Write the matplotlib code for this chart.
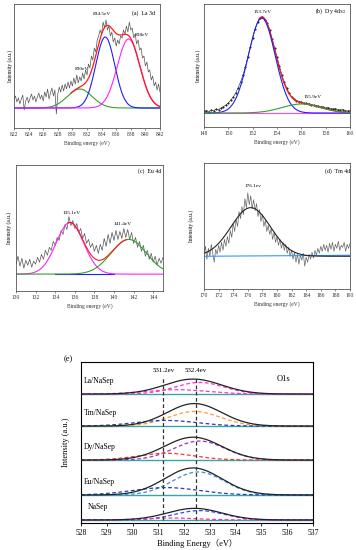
import numpy as np
import matplotlib
matplotlib.use('Agg')
import matplotlib.pyplot as plt
from matplotlib.ticker import MultipleLocator

plt.rcParams['font.family'] = ['Liberation Serif', 'Noto Sans CJK SC']
plt.rcParams['mathtext.fontset'] = 'stix'

# ---- (a) La 3d ----
la_start, la_step = 822.0, 0.2
la_y = [8, 12, 6, 10, 4, 9, 13, -2, 7, 11, 5, 10, 14, 8, 12, 6, 11, 15, 9, 13,
        7, 16, 11, 19, 9, 15, 20, 12, 18, -6, 14, 21, 16, 23, 17, 24, 19, 26, 20, 27,
        22, 30, 24, 33, 25, 31, 27, 35, 29, 38, 33, 44, 40, 52, 48, 60, 56, 68, 72, 78,
        74, 86, 80, 88, 78, 82, 72, 76, 66, 70, 62, 68, 64, 72, 70, 78, 74, 82, 76, 86,
        78, 80, 70, 74, 64, 68, 58, 60, 50, 52, 42, 46, 36, 38, 28, 32, 22, 26, 18, 24, 16]
la_pos = [831.0, 834.5, 837.7]
la_height = [19, 71, 69]
la_sigma = [1.7, 1.3, 1.55]
la_labels = ['830eV', '834.5eV', '838eV']

# ---- (b) Dy 4d5/2 ----
dy_start, dy_step = 148.0, 0.2
dy_y = [2, 2.5, 1.5, 3, 2.5, 4, 3.5, 5, 6.5, 8, 10, 13, 16, 20, 25, 31, 38, 46, 56, 66,
        75, 84, 91, 95, 96, 93, 90, 83, 74, 65, 56, 47, 38, 31, 25, 20, 16, 14, 12.5, 11.5,
        11, 10, 9.8, 9.5, 8.5, 8, 7.5, 7, 6.5, 6, 5, 5.5, 4.5, 4, 4.5, 3.5, 3, 3.5, 2.5, 2, 2.5]
dy_pos = [152.75, 156.0]
dy_height = [95, 9]
dy_sigma = [1.1, 1.6]
dy_labels = ['153.7eV', '155.9eV']

# ---- (c) Eu 4d ----
eu_start, eu_step = 130.0, 0.2
eu_y = [10, 18, 8, 16, 6, 14, 9, 15, 7, 13, 10, 17, 12, 20, 15, 24, 19, 27, 24, 33,
        29, 37, 34, 44, 40, 50, 45, 58, 49, 54, 46, 51, 42, 46, 36, 41, 31, 35, 27, 31,
        23, 29, 21, 30, 24, 36, 28, 40, 31, 42, 34, 44, 35, 43, 36, 46, 37, 45, 35, 42,
        31, 37, 27, 33, 23, 29, 18, 24, 15, 21, 12, 18, 9, 16, 11, 17]
eu_pos = [135.5, 141.5]
eu_height = [52, 35]
eu_sigma = [1.4, 1.8]
eu_labels = ['135.1eV', '141.4eV']

# ---- (d) Tm 4d ----
tm_start, tm_step = 170.0, 0.2
tm_y = [2, 10, -3, 8, 0, 12, 3, -6, 7, 2, 11, 4, 14, 6, 17, 10, 20, 13, 26, 19,
        33, 25, 37, 30, 45, 38, 50, 42, 58, 49, 64, 52, 61, 48, 57, 46, 53, 40, 47, 35,
        42, 30, 36, 25, 31, 22, 28, 17, 24, 14, 20, 11, 17, 8, 14, 6, 12, 3, 9, 0,
        6, -3, 4, -6, 2, -8, 1, -4, 3, -10, -1, -6, 2, -3, 4, -2, 6, 1, 8, 3,
        10, 5, 12, 6, 11, 4, 13, 7, 14, 5, 12, 8, 15, 6, 11, 9, 14, 5, 12, 8, 13]
tm_pos = 176.4
tm_height = 49
tm_sigma = 2.7
tm_label = '176.1ev'

# ---- (e) O1s ----
e_samples = ['La/NaSep', 'Tm/NaSep', 'Dy/NaSep', 'Eu/NaSep', 'NaSep']
e_offset = [8.01, 6.02, 3.91, 1.74, 0.19]
e_env_pos = [532.35, 532.4, 532.35, 532.35, 532.4]
e_env_height = [0.93, 1.40, 1.42, 1.68, 0.72]
e_env_sigma = [1.1, 1.05, 1.1, 1.1, 1.05]
e_c1_pos = [532.6, 532.4, 532.6, 532.55, 532.6]
e_c1_height = [0.72, 0.91, 1.18, 1.43, 0.58]
e_c1_sigma = [0.95, 1.0, 1.0, 1.0, 0.95]
e_c2_pos = [531.7, 531.3, 531.3, 531.3, 531.5]
e_c2_height = [0.27, 0.35, 0.42, 0.46, 0.12]
e_c2_sigma = [1.2, 1.2, 1.1, 1.3, 1.0]
e_lines = [531.2, 532.45]
e_line_labels = ['531.2ev', '532.4ev']

c1_colors = ['#ff33cc', '#ff9933', '#9933cc', '#3a8fe0', '#3344ff']
c2_colors = ['#ff33cc', '#3333bb', '#ff3333', '#2a3fb0', '#ff3399']


def gauss(x, c, h, s):
    return h * np.exp(-(x - c) ** 2 / (2 * s ** 2))


W, H = 356, 550


def box(l, t, r, b):
    return [l / W, 1 - b / H, (r - l) / W, (b - t) / H]


def style_small(ax, x0, x1, ylim):
    ax.set_xlim(x0, x1)
    ax.set_ylim(*ylim)
    ax.set_yticks([])
    ax.xaxis.set_major_locator(MultipleLocator(2))
    ax.tick_params(axis='x', labelsize=4, length=1.5, width=0.4, pad=1.5, colors='#333333')
    ax.tick_params(axis='x', which='minor', length=1, width=0.3)
    for sp in ax.spines.values():
        sp.set_color('#555555')
        sp.set_linewidth(0.6)
    ax.set_xlabel('Binding energy (eV)', fontsize=4, labelpad=2, color='#333333')


fig = plt.figure(figsize=(W / 100, H / 100), dpi=100)

# (a)
ax = fig.add_axes(box(14, 4, 160, 128))
x = la_start + la_step * np.arange(len(la_y))
xf = np.linspace(822, 842, 400)
ax.plot(x, la_y, color='#555555', lw=0.5)
total = sum(gauss(xf, c, h, s) for c, h, s in zip(la_pos, la_height, la_sigma))
for c, h, s, col in zip(la_pos, la_height, la_sigma, ['#33a02c', '#1f1fff', '#ff22ff']):
    ax.plot(xf, gauss(xf, c, h, s), color=col, lw=0.8)
m = xf > 829.8
ax.plot(xf[m], total[m], color='#ff1a1a', lw=0.9)
ax.text(831.3, 38, la_labels[0], fontsize=3.8, ha='center')
ax.text(834.05, 93, la_labels[1], fontsize=3.8, ha='center')
ax.text(839.5, 72, la_labels[2], fontsize=3.8, ha='center')
ax.text(838.2, 93, '(a)  La 3d', fontsize=4.2)
style_small(ax, 822, 842, (-20, 104))
ax.set_ylabel('Intensity (a.u.)', fontsize=4, labelpad=1)

# (b)
ax = fig.add_axes(box(204, 4, 350, 127))
x = dy_start + dy_step * np.arange(len(dy_y))
xf = np.linspace(148, 160, 400)
ax.plot(xf, np.zeros_like(xf), color='#ff44ff', lw=0.8)
total = sum(gauss(xf, c, h, s) for c, h, s in zip(dy_pos, dy_height, dy_sigma))
ax.plot(x, dy_y, color='#222222', lw=0.4, marker='s', ms=0.5)
ax.plot(xf[xf > 152.5], total[xf > 152.5], color='#ff1a1a', lw=0.9)
ax.plot(xf, gauss(xf, dy_pos[0], dy_height[0], dy_sigma[0]), color='#1f1fff', lw=0.8)
ax.plot(xf, gauss(xf, dy_pos[1], dy_height[1], dy_sigma[1]), color='#33a02c', lw=0.8)
ax.text(152.8, 100, dy_labels[0], fontsize=3.8, ha='center')
ax.text(156.9, 15, dy_labels[1], fontsize=3.8, ha='center')
ax.text(157.1, 100, '(b)  Dy 4d$_{5/2}$', fontsize=4.2)
style_small(ax, 148, 160, (-14, 109))
ax.set_ylabel('Intensity (a.u.)', fontsize=4, labelpad=2)

# (c)
ax = fig.add_axes(box(16, 165, 163, 291))
x = eu_start + eu_step * np.arange(len(eu_y))
xf = np.linspace(130, 145, 400)
ax.plot(x, eu_y, color='#555555', lw=0.5)
ax.plot([134, 140], [0, 0], color='#1f1fff', lw=0.8)
total = sum(gauss(xf, c, h, s) for c, h, s in zip(eu_pos, eu_height, eu_sigma))
ax.plot(xf, gauss(xf, eu_pos[0], eu_height[0], eu_sigma[0]), color='#ff22ff', lw=0.8)
ax.plot(xf, gauss(xf, eu_pos[1], eu_height[1], eu_sigma[1]), color='#33a02c', lw=0.8)
m = (xf > 135.3) & (xf < 141.3)
ax.plot(xf[m], total[m], color='#ff1a1a', lw=0.8)
ax.text(135.7, 61, eu_labels[0], fontsize=3.8, ha='center')
ax.text(140.9, 50, eu_labels[1], fontsize=3.8, ha='center')
ax.text(142.4, 102, '(c)  Eu 4d', fontsize=4.2)
style_small(ax, 130, 145, (-17, 110))
ax.set_ylabel('Intensity (a.u.)', fontsize=4, labelpad=3)

# (d)
ax = fig.add_axes(box(204, 163, 350, 289))
x = tm_start + tm_step * np.arange(len(tm_y))
xf = np.linspace(170, 190, 400)
ax.plot(x, tm_y, color='#666666', lw=0.5)
ax.plot([170, 190], [0, 1], color='#3399ff', lw=0.8)
ax.plot(xf, gauss(xf, tm_pos, tm_height, tm_sigma), color='#222222', lw=0.8)
ax.text(176.7, 70, tm_label, fontsize=3.8, ha='center')
ax.text(186.6, 84, '(d)  Tm 4d', fontsize=4.2)
style_small(ax, 170, 190, (-33, 94))
ax.xaxis.set_minor_locator(MultipleLocator(1))
ax.set_ylabel('Intensity (a.u.)', fontsize=4, labelpad=7)

# (e)
ax = fig.add_axes(box(81, 362, 313, 523))
xf = np.linspace(528, 537, 500)
for i, name in enumerate(e_samples):
    off = e_offset[i]
    ax.axhline(off, color='#3aa6a6', lw=1.0, zorder=1)
    ax.plot(xf, off + gauss(xf, e_c1_pos[i], e_c1_height[i], e_c1_sigma[i]),
            color=c1_colors[i], lw=0.9, ls=(0, (3, 2)), zorder=2)
    ax.plot(xf, off + gauss(xf, e_c2_pos[i], e_c2_height[i], e_c2_sigma[i]),
            color=c2_colors[i], lw=0.9, ls=(0, (3, 2)), zorder=2)
    ax.plot(xf, off + gauss(xf, e_env_pos[i], e_env_height[i], e_env_sigma[i]),
            color='#222222', lw=0.9, zorder=3)
    ax.text(528.12 if i < 4 else 528.27, off + 0.8, name, fontsize=5.5, va='center')
for xl, lab in zip(e_lines, e_line_labels):
    ax.vlines(xl, 0.19, 9.05, colors='#333333', lw=0.9, linestyles=(0, (3, 2)), zorder=4)
    ax.text(xl, 9.5, lab, fontsize=5, ha='center', va='center')
ax.text(535.6, 8.94, 'O1s', fontsize=6, va='center')
ax.set_xlim(528, 537)
ax.set_ylim(0, 10)
ax.set_yticks([])
ax.xaxis.set_major_locator(MultipleLocator(1))
ax.tick_params(axis='x', labelsize=5.5, length=2, width=0.6, pad=2)
for sp in ax.spines.values():
    sp.set_linewidth(0.8)
ax.set_xlabel('Binding Energy（eV）', fontsize=6, labelpad=2)
ax.set_ylabel('Intensity (a.u.)', fontsize=6, labelpad=8)
fig.text(68 / W, 1 - 359 / H, '(e)', fontsize=6, ha='center', va='center')

fig.savefig('out.png', dpi=100)
